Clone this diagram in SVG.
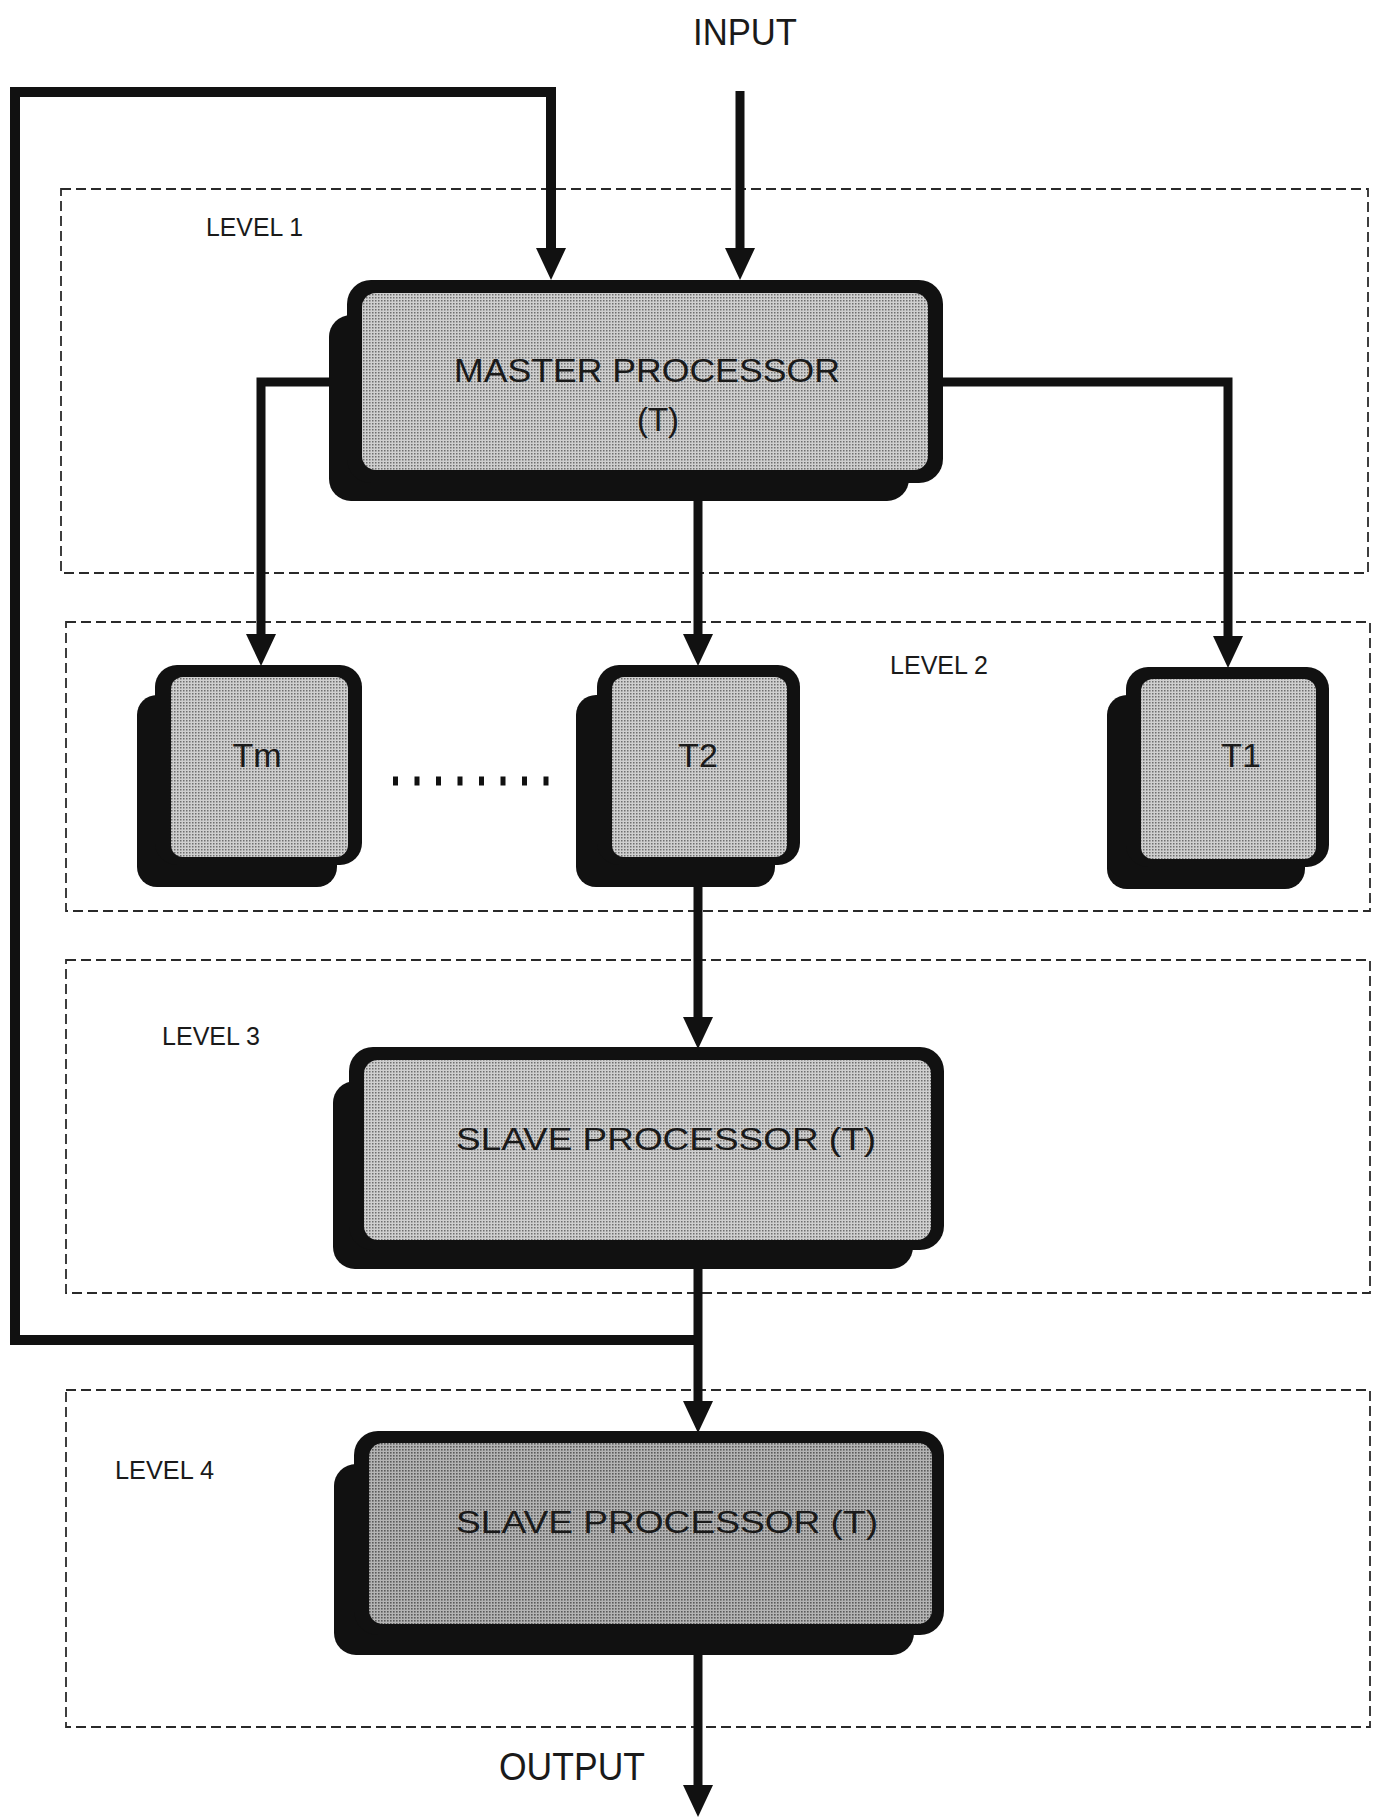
<svg xmlns="http://www.w3.org/2000/svg" width="1377" height="1818" viewBox="0 0 1377 1818">
<defs>
<style>
.lvl{fill:none;stroke:#2a2a2a;stroke-width:1.8;stroke-dasharray:10 5}
.lbl{font-family:"Liberation Sans",Arial,sans-serif;fill:#1a1a1a}
.con{fill:none;stroke:#111;stroke-width:9;stroke-linejoin:miter}
.shadow{fill:#111}
.outer{fill:#111}
.inner{fill:url(#ht)}
.inner2{fill:url(#ht2)}
.ntext{font-family:"Liberation Sans",Arial,sans-serif;fill:#1a1a1a;text-anchor:middle}
</style>
<pattern id="ht" width="3" height="3" patternUnits="userSpaceOnUse">
<rect width="3" height="3" fill="#cfcfcf"/>
<rect width="1.5" height="1.5" fill="#6e6e6e"/>
</pattern>
<pattern id="ht2" width="3" height="3" patternUnits="userSpaceOnUse">
<rect width="3" height="3" fill="#b4b4b4"/>
<rect width="1.6" height="1.6" fill="#5a5a5a"/>
</pattern>
<marker id="arr" markerUnits="userSpaceOnUse" markerWidth="34" markerHeight="30" refX="0" refY="15" orient="auto">
<path d="M0,0 L32,15 L0,30 z" fill="#111"/>
</marker>
</defs>
<rect width="1377" height="1818" fill="#fff"/>

<g id="levels">
<rect class="lvl" x="61" y="189" width="1307" height="384"/>
<rect class="lvl" x="66" y="622" width="1304" height="289"/>
<rect class="lvl" x="66" y="960" width="1304" height="333"/>
<rect class="lvl" x="66" y="1390" width="1304" height="337"/>
<text class="lbl" x="206" y="236" font-size="25" textLength="97" lengthAdjust="spacingAndGlyphs">LEVEL 1</text>
<text class="lbl" x="890" y="674" font-size="25" textLength="98" lengthAdjust="spacingAndGlyphs">LEVEL 2</text>
<text class="lbl" x="162" y="1045" font-size="25" textLength="98" lengthAdjust="spacingAndGlyphs">LEVEL 3</text>
<text class="lbl" x="115" y="1479" font-size="25" textLength="99" lengthAdjust="spacingAndGlyphs">LEVEL 4</text>
</g>

<text class="lbl" x="693" y="45" font-size="37" textLength="104" lengthAdjust="spacingAndGlyphs">INPUT</text>
<text class="lbl" x="499" y="1780" font-size="39" textLength="146" lengthAdjust="spacingAndGlyphs">OUTPUT</text>

<g id="connectors">
<line class="con" x1="740" y1="91" x2="740" y2="248" marker-end="url(#arr)"/>
<polyline class="con" style="stroke-width:10" points="698,1340 15,1340 15,92 551,92 551,248" marker-end="url(#arr)"/>
<polyline class="con" points="349,382 261,382 261,634" marker-end="url(#arr)"/>
<line class="con" x1="698" y1="480" x2="698" y2="634" marker-end="url(#arr)"/>
<polyline class="con" points="937,382 1228,382 1228,636" marker-end="url(#arr)"/>
<line class="con" x1="698" y1="862" x2="698" y2="1017" marker-end="url(#arr)"/>
<line class="con" x1="698" y1="1250" x2="698" y2="1401" marker-end="url(#arr)"/>
<line class="con" x1="698" y1="1635" x2="698" y2="1785" marker-end="url(#arr)"/>
</g>

<g id="master">
<rect class="shadow" x="329" y="315" width="580" height="186" rx="22"/>
<rect class="outer" x="347" y="280" width="596" height="203" rx="24"/>
<rect class="inner" x="362" y="293" width="566" height="177" rx="14"/>
<text class="ntext" x="647" y="382" font-size="33" textLength="386" lengthAdjust="spacingAndGlyphs">MASTER PROCESSOR</text>
<text class="ntext" x="658" y="431" font-size="33">(T)</text>
</g>

<g id="tm">
<rect class="shadow" x="137" y="695" width="200" height="192" rx="20"/>
<rect class="outer" x="155" y="665" width="207" height="200" rx="22"/>
<rect class="inner" x="171" y="677" width="177" height="180" rx="12"/>
<text class="ntext" x="257" y="767" font-size="34">Tm</text>
</g>

<line id="dots" x1="393" y1="781" x2="550" y2="781" stroke="#111" stroke-width="9" stroke-dasharray="5 16.5"/>

<g id="t2">
<rect class="shadow" x="576" y="695" width="199" height="192" rx="20"/>
<rect class="outer" x="597" y="665" width="203" height="200" rx="22"/>
<rect class="inner" x="612" y="677" width="175" height="180" rx="12"/>
<text class="ntext" x="698" y="767" font-size="34">T2</text>
</g>

<g id="t1">
<rect class="shadow" x="1107" y="695" width="198" height="194" rx="20"/>
<rect class="outer" x="1126" y="667" width="203" height="200" rx="22"/>
<rect class="inner" x="1141" y="679" width="175" height="180" rx="12"/>
<text class="ntext" x="1241" y="767" font-size="34">T1</text>
</g>

<g id="slave3">
<rect class="shadow" x="333" y="1081" width="580" height="188" rx="22"/>
<rect class="outer" x="349" y="1047" width="595" height="203" rx="24"/>
<rect class="inner" x="364" y="1060" width="567" height="180" rx="14"/>
<text class="ntext" x="666" y="1150" font-size="32" textLength="420" lengthAdjust="spacingAndGlyphs">SLAVE PROCESSOR (T)</text>
</g>

<g id="slave4">
<rect class="shadow" x="334" y="1464" width="580" height="191" rx="22"/>
<rect class="outer" x="354" y="1431" width="590" height="204" rx="24"/>
<rect class="inner2" x="369" y="1443" width="563" height="181" rx="14"/>
<text class="ntext" x="667" y="1533" font-size="32" textLength="422" lengthAdjust="spacingAndGlyphs">SLAVE PROCESSOR (T)</text>
</g>
</svg>
